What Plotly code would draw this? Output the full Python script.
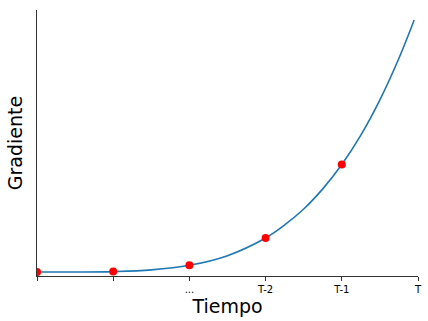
import plotly.graph_objects as go

# Curve readings (x in time steps, y in gradient units)
curve_x = [0, 0.5, 1, 1.5, 2, 2.5, 3, 3.25, 3.5, 3.75, 4, 4.25, 4.5, 4.75, 4.95]
curve_y = [0, 0.06, 1, 5, 16, 39, 81, 112, 150, 198, 256, 326, 410, 509, 600]

# Highlighted points
point_x = [0, 1, 2, 3, 4]
point_y = [0, 1, 16, 81, 256]

tick_vals = [0, 1, 2, 3, 4, 5]
tick_text = ["", "", "...", "T-2", "T-1", "T"]

FONT = "DejaVu Sans, Verdana, sans-serif"

fig = go.Figure()
fig.add_trace(go.Scatter(x=curve_x, y=curve_y, mode="lines",
                         line=dict(color="#1f77b4", width=1.6, shape="spline"),
                         showlegend=False, hoverinfo="skip"))
fig.add_trace(go.Scatter(x=point_x, y=point_y, mode="markers",
                         marker=dict(color="red", size=8),
                         showlegend=False, cliponaxis=True))

fig.update_layout(
    width=428, height=321,
    margin=dict(l=37, r=10, t=10, b=45, autoexpand=False),
    paper_bgcolor="white", plot_bgcolor="white",
    font=dict(family=FONT, color="black"),
)
fig.update_xaxes(range=[0, 5], tickvals=tick_vals, ticktext=tick_text,
                 automargin=False,
                 showgrid=False, zeroline=False, showline=True,
                 linecolor="#333333", linewidth=1, ticks="outside",
                 ticklen=4, tickcolor="#333333",
                 tickfont=dict(size=10, family=FONT),
                 title=dict(text="Tiempo", font=dict(size=19, family=FONT), standoff=4))
fig.update_yaxes(range=[-9.5, 624], showticklabels=False, ticks="",
                 automargin=False,
                 showgrid=False, zeroline=False, showline=True,
                 linecolor="#333333", linewidth=1,
                 title=dict(text="Gradiente", font=dict(size=19, family=FONT), standoff=8))

fig.write_html("out.html")
